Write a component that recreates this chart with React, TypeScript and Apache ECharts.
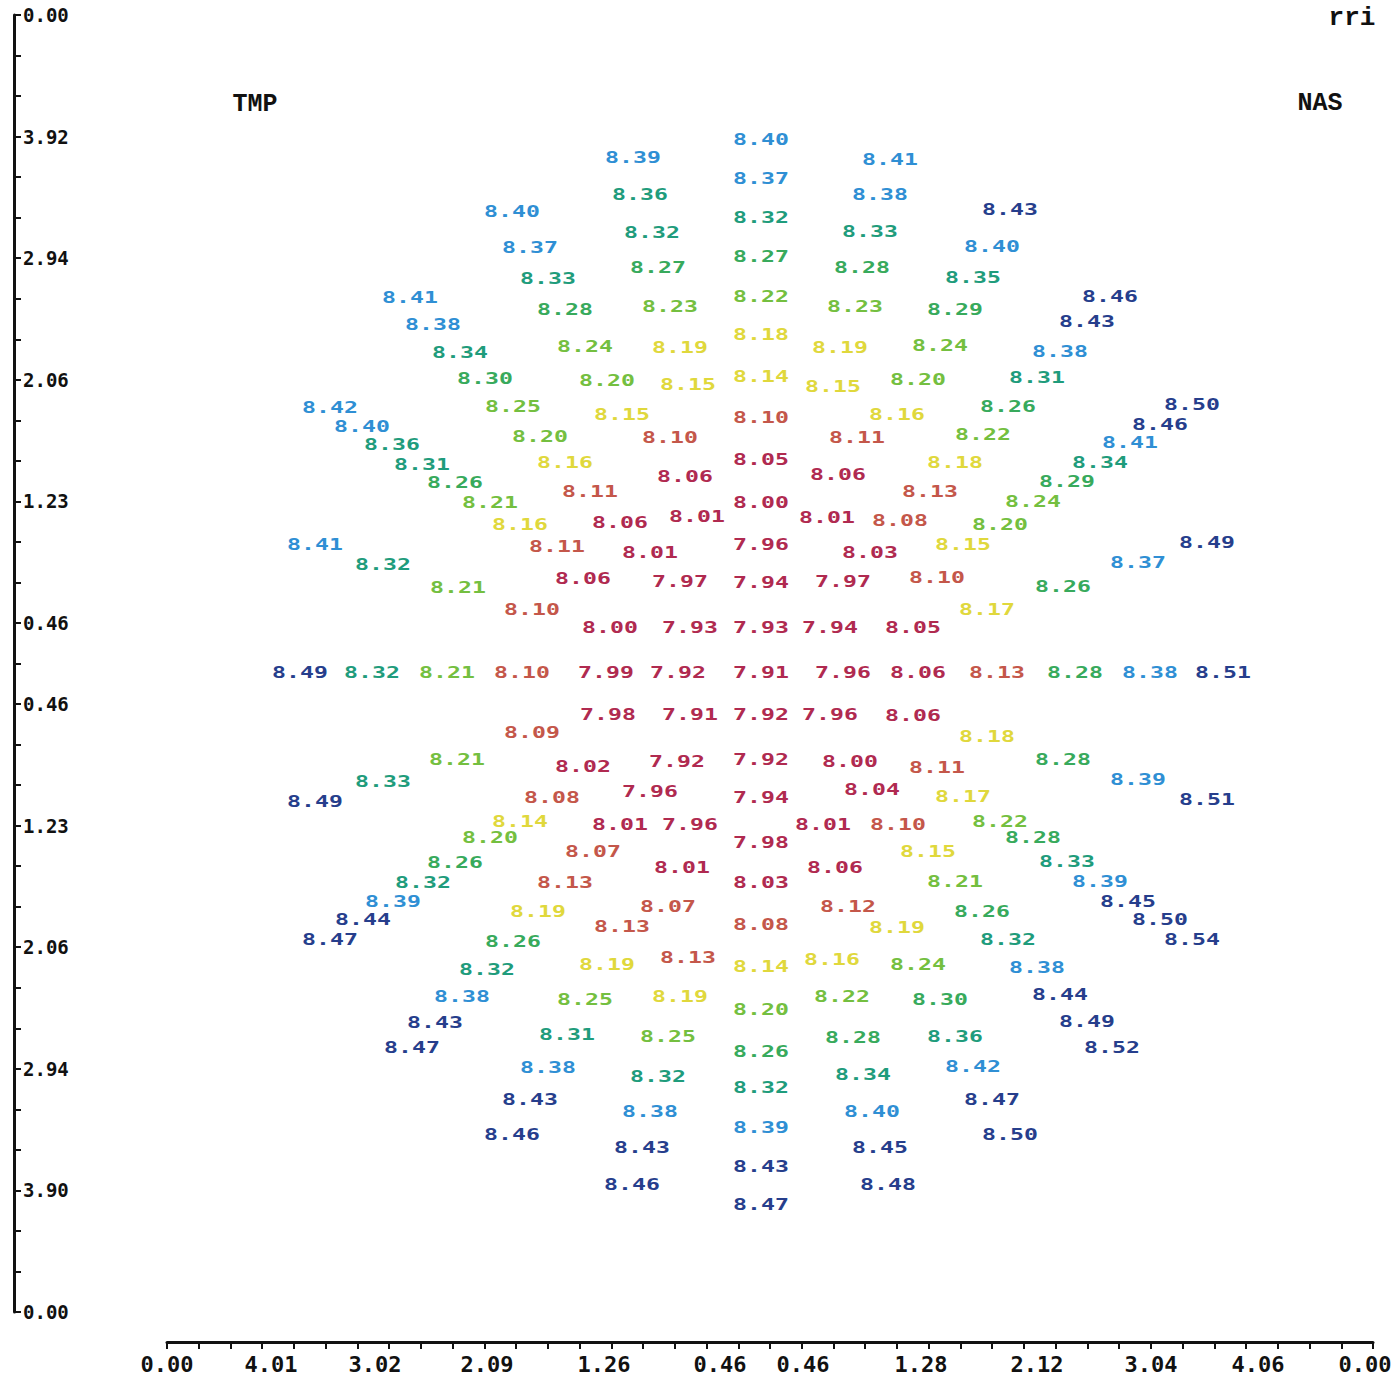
import React, { useEffect, useRef } from "react";
import * as echarts from "echarts";

// Positions are in grid units (centre of the map = 0,0), value = measured thickness
const centerColumn: number[][] = [
  [0, 53.3, 8.40], [0, 49.4, 8.37], [0, 45.5, 8.32], [0, 41.6, 8.27], [0, 37.6, 8.22],
  [0, 33.8, 8.18], [0, 29.6, 8.14], [0, 25.5, 8.10], [0, 21.3, 8.05], [0, 17.0, 8.00],
  [0, 12.8, 7.96], [0, 9.0, 7.94], [0, 4.5, 7.93], [0, 0, 7.91], [0, -4.2, 7.92],
  [0, -8.7, 7.92], [0, -12.5, 7.94], [0, -17.0, 7.98], [0, -21.0, 8.03], [0, -25.2, 8.08],
  [0, -29.4, 8.14], [0, -33.7, 8.20], [0, -37.9, 8.26], [0, -41.5, 8.32], [0, -45.5, 8.39],
  [0, -49.4, 8.43], [0, -53.2, 8.47],
];

const horizontalRow: number[][] = [
  [-46.1, 0, 8.49], [-38.9, 0, 8.32], [-31.4, 0, 8.21], [-23.9, 0, 8.10], [-15.5, 0, 7.99],
  [-8.3, 0, 7.92], [8.2, 0, 7.96], [15.7, 0, 8.06], [23.6, 0, 8.13], [31.4, 0, 8.28],
  [38.9, 0, 8.38], [46.2, 0, 8.51],
];

const upperLeft: number[][] = [
  [-12.8, 51.5, 8.39], [-12.1, 47.8, 8.36], [-10.9, 44.0, 8.32], [-10.3, 40.5, 8.27],
  [-9.1, 36.6, 8.23], [-8.1, 32.5, 8.19], [-7.3, 28.8, 8.15], [-9.1, 23.5, 8.10],
  [-7.6, 19.6, 8.06], [-6.4, 15.6, 8.01], [-8.1, 9.1, 7.97], [-7.1, 4.5, 7.93],
  [-24.9, 46.1, 8.40], [-23.1, 42.5, 8.37], [-21.3, 39.4, 8.33], [-19.6, 36.3, 8.28],
  [-17.6, 32.6, 8.24], [-15.4, 29.2, 8.20], [-13.9, 25.8, 8.15],
  [-35.1, 37.5, 8.41], [-32.8, 34.8, 8.38], [-30.1, 32.0, 8.34], [-27.6, 29.4, 8.30],
  [-24.8, 26.6, 8.25], [-22.1, 23.6, 8.20], [-19.6, 21.0, 8.16], [-17.1, 18.1, 8.11],
  [-14.1, 15.0, 8.06], [-11.1, 12.0, 8.01],
  [-43.1, 26.5, 8.42], [-39.9, 24.6, 8.40], [-36.9, 22.8, 8.36], [-33.9, 20.8, 8.31],
  [-30.6, 19.0, 8.26], [-27.1, 17.0, 8.21], [-24.1, 14.8, 8.16], [-20.4, 12.6, 8.11],
  [-17.8, 9.4, 8.06], [-15.1, 4.5, 8.00],
  [-44.6, 12.8, 8.41], [-37.8, 10.8, 8.32], [-30.3, 8.5, 8.21], [-22.9, 6.3, 8.10],
];

const upperRight: number[][] = [
  [12.9, 51.3, 8.41], [11.9, 47.8, 8.38], [10.9, 44.1, 8.33], [10.1, 40.5, 8.28],
  [9.4, 36.6, 8.23], [7.9, 32.5, 8.19], [7.2, 28.6, 8.15], [9.6, 23.5, 8.11],
  [7.7, 19.8, 8.06], [6.6, 15.5, 8.01], [8.2, 9.1, 7.97], [6.9, 4.5, 7.94],
  [24.9, 46.3, 8.43], [23.1, 42.6, 8.40], [21.2, 39.5, 8.35], [19.4, 36.3, 8.29],
  [17.9, 32.7, 8.24], [15.7, 29.3, 8.20], [13.6, 25.8, 8.16],
  [34.9, 37.6, 8.46], [32.6, 35.1, 8.43], [29.9, 32.1, 8.38], [27.6, 29.5, 8.31],
  [24.7, 26.6, 8.26], [22.2, 23.8, 8.22], [19.4, 21.0, 8.18], [16.9, 18.1, 8.13],
  [13.9, 15.2, 8.08], [10.9, 12.0, 8.03],
  [43.1, 26.8, 8.50], [39.9, 24.8, 8.46], [36.9, 23.0, 8.41], [33.9, 21.0, 8.34],
  [30.6, 19.1, 8.29], [27.2, 17.1, 8.24], [23.9, 14.8, 8.20], [20.2, 12.8, 8.15],
  [17.6, 9.5, 8.10], [15.2, 4.5, 8.05],
  [44.6, 13.0, 8.49], [37.7, 11.0, 8.37], [30.2, 8.6, 8.26], [22.6, 6.3, 8.17],
];

const lowerLeft: number[][] = [
  [-15.3, -4.2, 7.98], [-7.1, -4.2, 7.91],
  [-22.9, -6.0, 8.09], [-30.4, -8.7, 8.21], [-37.8, -10.9, 8.33], [-44.6, -12.9, 8.49],
  [-17.8, -9.4, 8.02], [-8.4, -8.9, 7.92], [-11.1, -11.9, 7.96], [-20.9, -12.5, 8.08],
  [-24.1, -14.9, 8.14], [-27.1, -16.5, 8.20], [-30.6, -19.0, 8.26], [-33.8, -21.0, 8.32],
  [-36.8, -22.9, 8.39], [-39.8, -24.7, 8.44], [-43.1, -26.7, 8.47],
  [-14.1, -15.2, 8.01], [-7.1, -15.2, 7.96], [-16.8, -17.9, 8.07], [-19.6, -21.0, 8.13],
  [-22.3, -23.9, 8.19], [-24.8, -26.9, 8.26], [-27.4, -29.7, 8.32], [-29.9, -32.4, 8.38],
  [-32.6, -35.0, 8.43], [-34.9, -37.5, 8.47],
  [-7.9, -19.5, 8.01], [-9.3, -23.4, 8.07], [-13.9, -25.4, 8.13], [-15.4, -29.2, 8.19],
  [-17.6, -32.7, 8.25], [-19.4, -36.2, 8.31], [-21.3, -39.5, 8.38], [-23.1, -42.7, 8.43],
  [-24.9, -46.2, 8.46],
  [-7.3, -28.5, 8.13], [-8.1, -32.4, 8.19], [-9.3, -36.4, 8.25], [-10.3, -40.4, 8.32],
  [-11.1, -43.9, 8.38], [-11.9, -47.5, 8.43], [-12.9, -51.2, 8.46],
];

const lowerRight: number[][] = [
  [6.9, -4.2, 7.96], [15.2, -4.3, 8.06],
  [22.6, -6.4, 8.18], [30.2, -8.7, 8.28], [37.7, -10.7, 8.39], [44.6, -12.7, 8.51],
  [8.9, -8.9, 8.00], [17.6, -9.5, 8.11], [11.1, -11.7, 8.04], [20.2, -12.4, 8.17],
  [23.9, -14.9, 8.22], [27.2, -16.5, 8.28], [30.6, -18.9, 8.33], [33.9, -20.9, 8.39],
  [36.7, -22.9, 8.45], [39.9, -24.7, 8.50], [43.1, -26.7, 8.54],
  [6.2, -15.2, 8.01], [13.7, -15.2, 8.10], [16.7, -17.9, 8.15], [19.4, -20.9, 8.21],
  [22.1, -23.9, 8.26], [24.7, -26.7, 8.32], [27.6, -29.5, 8.38], [29.9, -32.2, 8.44],
  [32.6, -34.9, 8.49], [35.1, -37.5, 8.52],
  [7.4, -19.5, 8.06], [8.7, -23.4, 8.12], [13.6, -25.5, 8.19], [15.7, -29.2, 8.24],
  [17.9, -32.7, 8.30], [19.4, -36.4, 8.36], [21.2, -39.4, 8.42], [23.1, -42.7, 8.47],
  [24.9, -46.2, 8.50],
  [7.1, -28.7, 8.16], [8.1, -32.4, 8.22], [9.2, -36.5, 8.28], [10.2, -40.2, 8.34],
  [11.1, -43.9, 8.40], [11.9, -47.5, 8.45], [12.7, -51.2, 8.48],
];

// Axis tick labels
const yTickIndex = [0, 3, 6, 9, 12, 15, 17, 20, 23, 26, 29, 32];
const yTickLabels = ["0.00", "3.92", "2.94", "2.06", "1.23", "0.46", "0.46", "1.23", "2.06", "2.94", "3.90", "0.00"];
const xLabelPos = [-59.4, -49.0, -38.6, -27.4, -15.7, -4.1, 4.2, 16.0, 27.6, 39.0, 49.7, 60.4];
const xTickLabels = ["0.00", "4.01", "3.02", "2.09", "1.26", "0.46", "0.46", "1.28", "2.12", "3.04", "4.06", "0.00"];

// Colour bands by value
const colorBands = [
  { max: 8.065, color: "#b02a50" },
  { max: 8.135, color: "#c4574a" },
  { max: 8.195, color: "#e0d83c" },
  { max: 8.255, color: "#74bf40" },
  { max: 8.305, color: "#38aa5c" },
  { max: 8.365, color: "#1f9c7c" },
  { max: 8.425, color: "#2f8fd4" },
  { max: 99, color: "#263e8c" },
];

const X_MIN = -59.4;
const X_MAX = 61.2;
const Y_MIN = -63.9;
const Y_MAX = 65.8;

function colorFor(v: number): string {
  for (const b of colorBands) if (v <= b.max) return b.color;
  return colorBands[colorBands.length - 1].color;
}

function buildOption() {
  const allPoints = [...centerColumn, ...horizontalRow, ...upperLeft, ...upperRight, ...lowerLeft, ...lowerRight];
  const xTicks: number[] = [];
  const nX = 38;
  for (let i = 0; i <= nX; i++) xTicks.push(+(X_MIN + ((X_MAX - X_MIN) * i) / nX).toFixed(3));

  const font = '"DejaVu Sans Mono", monospace';

  return {
    animation: false,
    backgroundColor: "#ffffff",
    grid: { left: 167, right: 22, top: 15, bottom: 68, containLabel: false },
    xAxis: [
      {
        type: "value",
        min: X_MIN,
        max: X_MAX,
        position: "bottom",
        offset: 30,
        axisLine: { show: true, onZero: false, lineStyle: { color: "#111", width: 3 } },
        axisTick: { show: true, customValues: xTicks, length: 7, lineStyle: { color: "#111", width: 2 } },
        axisLabel: {
          show: true,
          customValues: xLabelPos,
          margin: 11,
          color: "#111",
          fontFamily: font,
          fontWeight: "bold",
          fontSize: 22,
          formatter: (v: number) => {
            let best = 0;
            let d = 1e9;
            xLabelPos.forEach((p, i) => {
              if (Math.abs(p - v) < d) {
                d = Math.abs(p - v);
                best = i;
              }
            });
            return xTickLabels[best];
          },
        },
        splitLine: { show: false },
      },
    ],
    yAxis: [
      {
        type: "value",
        min: Y_MIN,
        max: Y_MAX,
        show: false,
        axisLine: { onZero: false },
        splitLine: { show: false },
      },
      {
        type: "value",
        min: 0,
        max: 32,
        interval: 1,
        inverse: true,
        position: "left",
        offset: 153,
        axisLine: { show: true, onZero: false, lineStyle: { color: "#111", width: 3 } },
        axisTick: { show: true, inside: true, length: 7, lineStyle: { color: "#111", width: 2 } },
        axisLabel: {
          show: true,
          inside: true,
          margin: 9,
          color: "#111",
          fontFamily: font,
          fontWeight: "bold",
          fontSize: 19,
          showMinLabel: true,
          showMaxLabel: true,
          formatter: (v: number) => {
            const i = yTickIndex.indexOf(Math.round(v));
            return i >= 0 ? yTickLabels[i] : "";
          },
        },
        splitLine: { show: false },
      },
    ],
    graphic: [
      {
        type: "text",
        x: 255,
        y: 104,
        style: { text: "TMP", fill: "#111", font: 'bold 25px "Liberation Mono"', align: "center", verticalAlign: "middle" },
      },
      {
        type: "text",
        x: 1320,
        y: 103,
        style: { text: "NAS", fill: "#111", font: 'bold 25px "Liberation Mono"', align: "center", verticalAlign: "middle" },
      },
      {
        type: "text",
        x: 1352,
        y: 18,
        style: { text: "rri", fill: "#111", font: 'bold 26px "Liberation Mono"', align: "center", verticalAlign: "middle" },
      },
    ],
    series: [
      {
        type: "custom",
        coordinateSystem: "cartesian2d",
        xAxisIndex: 0,
        yAxisIndex: 0,
        silent: true,
        data: allPoints,
        renderItem: (_params: any, api: any) => {
          const p = api.coord([api.value(0), api.value(1)]);
          const v = api.value(2) as number;
          return {
            type: "text",
            x: p[0],
            y: p[1],
            scaleX: 1.45,
            style: {
              text: v.toFixed(2),
              fill: colorFor(v),
              font: 'bold 16px "DejaVu Sans Mono"',
              align: "center",
              verticalAlign: "middle",
            },
          };
        },
      },
    ],
  };
}

export default function App() {
  const ref = useRef<HTMLDivElement>(null);
  useEffect(() => {
    if (!ref.current) return;
    const chart = echarts.init(ref.current, null, { renderer: "svg" });
    chart.setOption(buildOption() as any);
    return () => chart.dispose();
  }, []);
  return (
    <div
      ref={ref}
      style={{ position: "absolute", left: 0, top: 0, width: 1395, height: 1380, background: "#ffffff" }}
    />
  );
}
